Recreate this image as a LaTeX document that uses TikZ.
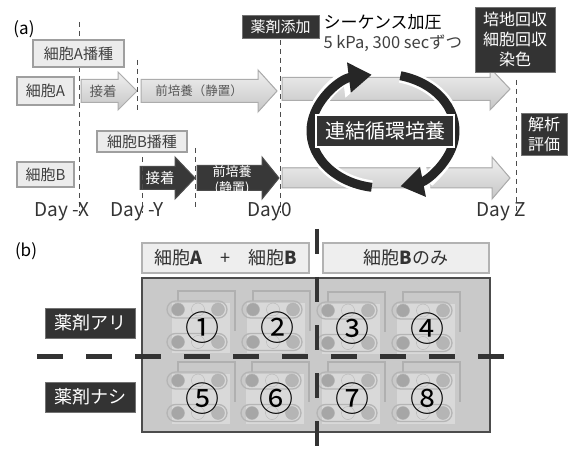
\documentclass[tikz,border=0pt]{standalone}
\usepackage{fontspec}
\setmainfont{Noto Sans CJK JP}
\usepackage{tikz}
\usetikzlibrary{shadows}
\usetikzlibrary{positioning}
\usetikzlibrary{arrows.meta}
\tikzstyle{lightbox}=[draw=gray!75, line width=1.4pt, fill=gray!15, text=black!75, inner sep=0pt, font=\fontsize{15}{17}\selectfont, drop shadow={opacity=0.25, shadow xshift=1.2pt, shadow yshift=-1.2pt}]
\tikzstyle{darkbox}=[draw=black!55, line width=0.8pt, fill=black!80, text=white, inner sep=0pt, align=center, drop shadow={opacity=0.2, shadow xshift=1.2pt, shadow yshift=-1.2pt}]
\tikzstyle{guide}=[gray!60!black, line width=0.9pt, dash pattern=on 5pt off 4pt]
\tikzstyle{lightarrow}=[draw=gray!65, line width=1pt, top color=gray!12, bottom color=gray!45]
\tikzstyle{darkarrow}=[draw=black!70, line width=1pt, fill=black!78]
\tikzstyle{daylabel}=[font=\fontsize{19}{20}\selectfont, text=black!80]
\tikzstyle{headbox}=[draw=gray!60, line width=1.2pt, fill=gray!13, text=black!80, inner sep=0pt, font=\fontsize{18}{19}\selectfont]
\tikzstyle{wall}=[black!80, line width=4.5pt, dash pattern=on 25pt off 23pt]

\begin{document}
\begin{tikzpicture}[x=1pt, y=-1pt]

  \useasboundingbox[fill=white] (0,0) rectangle (568,449);

  \node[font=\fontsize{17}{18}\selectfont] (alabel) at (24,29) {(a)};

  % block arrows: start/end/head start/centre/half body/half head
  \foreach \xa/\xb/\xh/\yc/\bh/\hh/\st in {81/137/118/91/11.5/19/lightarrow, 141/277/258/91/11.5/21/lightarrow, 282/510/490/89/11.5/21/lightarrow, 282/510/492/178/10/21/lightarrow, 140/195/175/178/11.5/21/darkarrow, 197/279/262/178/12.5/21/darkarrow}
    \filldraw[\st] (\xa,\yc-\bh) -- (\xh,\yc-\bh) -- (\xh,\yc-\hh) -- (\xb,\yc) -- (\xh,\yc+\hh) -- (\xh,\yc+\bh) -- (\xa,\yc+\bh) -- cycle;

  \node[text=black!65, font=\fontsize{13.5}{15}\selectfont] (attachA) at (103,91) {接着};
  \node[text=black!65, font=\fontsize{12.5}{15}\selectfont] (precultA) at (199,91) {前培養（静置）};
  \node[text=white, font=\fontsize{14.5}{16}\selectfont] (attachB) at (160,178) {接着};
  \node[text=white, font=\fontsize{13}{16}\selectfont, align=center] (precultB) at (232,180) {前培養\\(静置)};

  % day lines
  \draw[guide] (79,22) -- (79,213);
  \draw[guide] (137,60) -- (137,113);
  \draw[guide] (142,157) -- (142,213);
  \draw[guide] (195,148) -- (195,210);
  \draw[guide] (280,40) -- (280,213);
  \draw[guide] (516,80) -- (516,213);

  \node[lightbox, minimum width=91pt, minimum height=27pt] (seedA) at (78.5,53.5) {細胞A播種};
  \node[lightbox, minimum width=57pt, minimum height=28pt] (cellA) at (45.5,91) {細胞A};
  \node[lightbox, minimum width=57pt, minimum height=25pt] (cellB) at (45.5,174.5) {細胞B};
  \node[lightbox, minimum width=90pt, minimum height=21pt] (seedB) at (142,141.5) {細胞B播種};

  \node[darkbox, minimum width=77pt, minimum height=23pt, font=\fontsize{15}{16}\selectfont] (drug) at (280.5,26.5) {薬剤添加};
  \node[darkbox, minimum width=80pt, minimum height=65pt, font=\fontsize{16}{20}\selectfont] (harvest) at (515,39.5) {培地回収\\細胞回収\\染色};
  \node[darkbox, minimum width=46pt, minimum height=42pt, font=\fontsize{16}{20}\selectfont] (analysis) at (544,134) {解析\\評価};

  \node[anchor=west, font=\fontsize{17}{18}\selectfont] (press) at (320,22) {シーケンス加圧};
  \node[anchor=west, text=black!75, font=\fontsize{16.5}{18}\selectfont] (pressval) at (320,43) {5 kPa, 300 secずつ};

  \node[daylabel] (dayX) at (62,212) {Day -X};
  \node[daylabel] (dayY) at (137,212) {Day -Y};
  \node[daylabel] (day0) at (270,212) {Day0};
  \node[daylabel] (dayZ) at (501,212) {Day Z};

  % circulation loop
  \coordinate (cyc) at (383,131);
  \draw[white, line width=14, -{Triangle[length=29pt, width=37pt]}] ([shift={(99:72 and 57)}]cyc) arc[start angle=99, end angle=261, x radius=72, y radius=57];
  \draw[black!85, line width=9, -{Triangle[length=23pt, width=29pt]}] ([shift={(99:72 and 57)}]cyc) arc[start angle=99, end angle=261, x radius=72, y radius=57];
  \draw[white, line width=14, -{Triangle[length=29pt, width=37pt]}] ([shift={(-76:72 and 57)}]cyc) arc[start angle=-76, end angle=76, x radius=72, y radius=57];
  \draw[black!85, line width=9, -{Triangle[length=23pt, width=29pt]}] ([shift={(-76:72 and 57)}]cyc) arc[start angle=-76, end angle=76, x radius=72, y radius=57];
  \node[darkbox, draw=white, line width=1.5pt, minimum width=138pt, minimum height=32pt, font=\fontsize{20}{22}\selectfont] (loop) at (385,131) {連結循環培養};

  % (b) chip layout
  \node[font=\fontsize{17}{18}\selectfont] (blabel) at (26,251) {(b)};
  \node[headbox, minimum width=167pt, minimum height=30pt] (mixhead) at (225.5,258) {細胞\textbf{A}\quad{}+\quad{}細胞\textbf{B}};
  \node[headbox, minimum width=166pt, minimum height=30pt] (onlyhead) at (406,258) {細胞\textbf{B}のみ};
  \node[draw=black!70, line width=1.5pt, fill=gray!42, minimum width=348pt, minimum height=154pt] (chip) at (316,355) {};

  \foreach \cx/\cy/\num [count=\i] in {202/328/①, 277/328/②, 352/329/③, 427/329/④, 202/399/⑤, 276/399/⑥, 352/399/⑦, 427/399/⑧} {
    \fill[gray!30] (\cx-30,\cy-25) rectangle (\cx+28,\cy+25);
    \draw[gray!62, line width=2.2pt] (\cx-24,\cy-27) -- (\cx-24,\cy-37) -- (\cx+33,\cy-37) -- (\cx+33,\cy+3);
    \foreach \dy in {-18.5, 14} {
      \draw[gray!58, line width=1.3pt, rounded corners=8.5pt] (\cx-35,\cy+\dy-8.5) rectangle (\cx+25,\cy+\dy+8.5);
      \filldraw[draw=gray!60, fill=gray!70] (\cx-24,\cy+\dy) circle (6.5);
      \draw[gray!58] (\cx-4,\cy+\dy) circle (6.5);
      \filldraw[draw=gray!60, fill=gray!58] (\cx+16,\cy+\dy) circle (6.5);
    }
    \node[font=\fontsize{34}{35}\selectfont] (well\i) at (\cx,\cy) {\num};
  }

  \node[darkbox, minimum width=90pt, minimum height=30pt, font=\fontsize{18}{20}\selectfont] (withdrug) at (90,323) {薬剤アリ};
  \node[darkbox, minimum width=90pt, minimum height=30pt, font=\fontsize{18}{20}\selectfont] (nodrug) at (90,397) {薬剤ナシ};

  \draw[wall] (317,229) -- (317,449);
  \draw[wall, line width=5pt, dash pattern=on 26pt off 23pt] (37,356) -- (505,356);

\end{tikzpicture}
\end{document}
